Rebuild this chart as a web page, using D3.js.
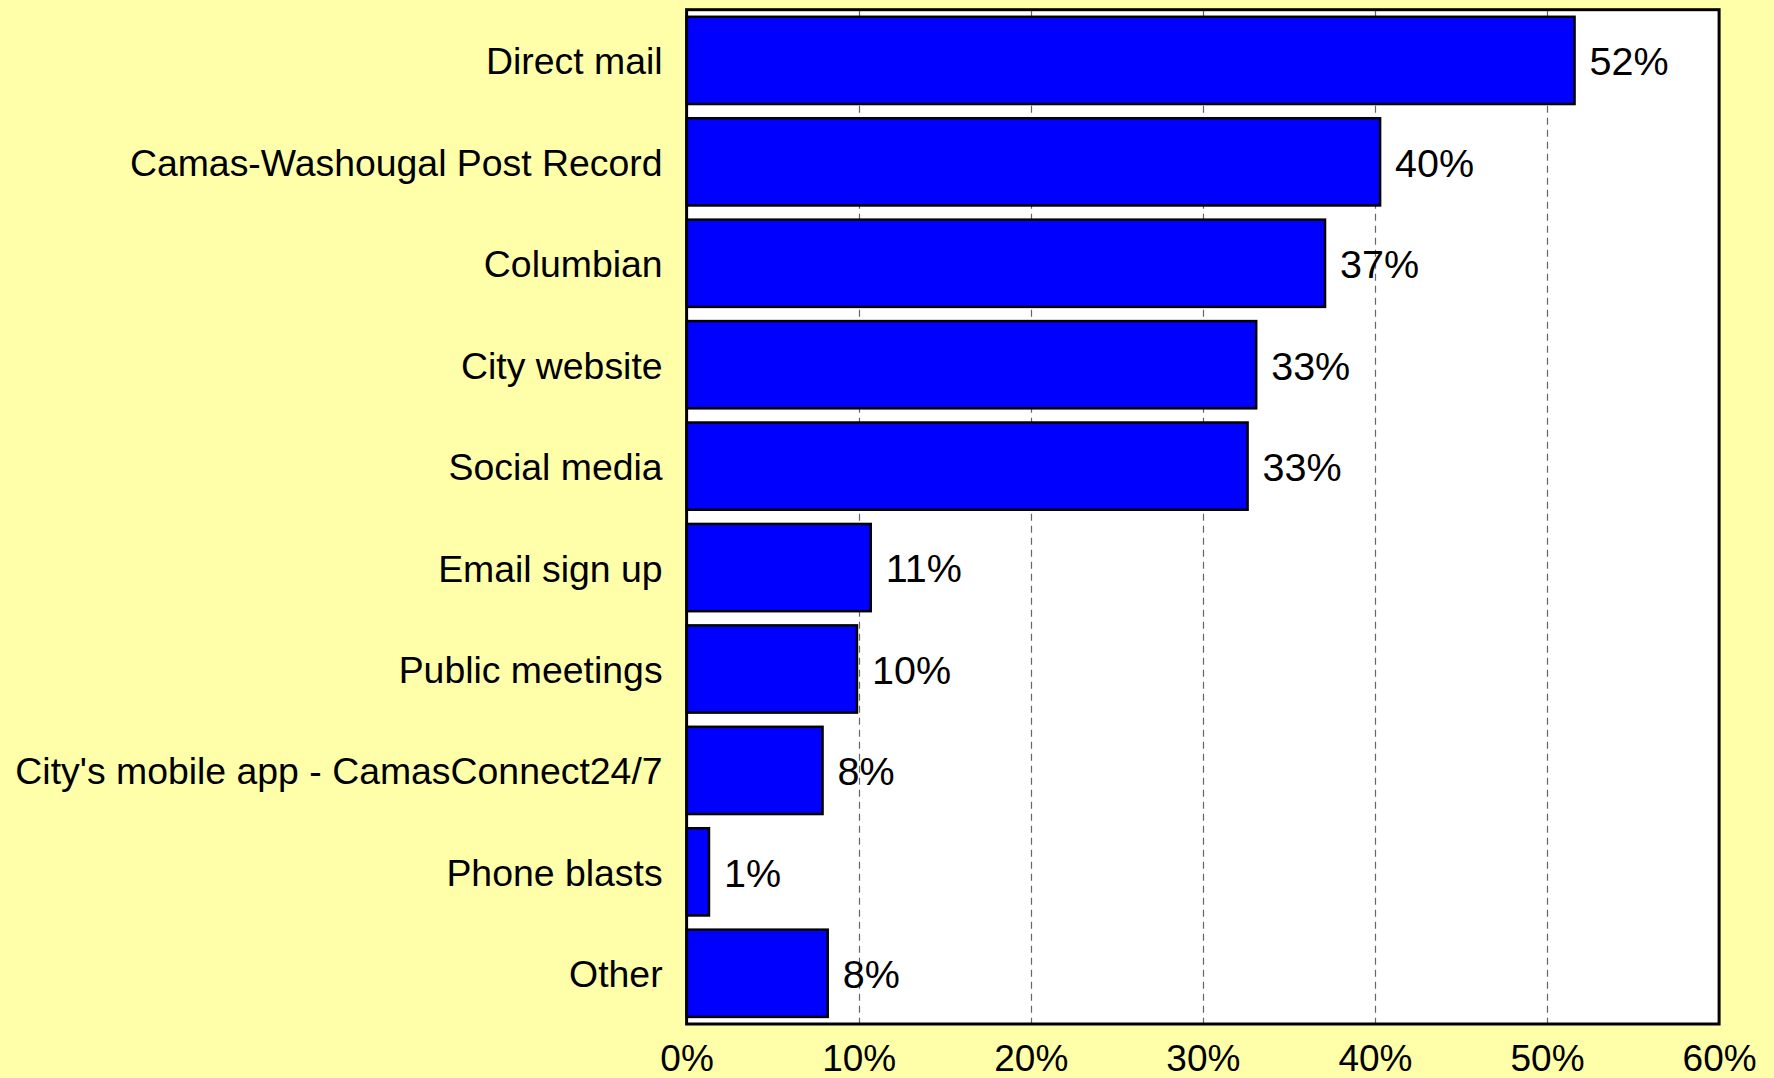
<!DOCTYPE html>
<html><head><meta charset="utf-8">
<script src="https://cdn.jsdelivr.net/npm/d3@7"></script>
<style>html,body{margin:0;padding:0;background:#ffffaa;}svg{display:block;}</style>
</head><body>
<svg id="chart" width="1774" height="1078"></svg>
<script>
const categories = ["Direct mail","Camas-Washougal Post Record","Columbian","City website","Social media","Email sign up","Public meetings","City's mobile app - CamasConnect24/7","Phone blasts","Other"];
const values = [51.6, 40.3, 37.1, 33.1, 32.6, 10.7, 9.9, 7.9, 1.3, 8.2];
const valueLabels = ["52%","40%","37%","33%","33%","11%","10%","8%","1%","8%"];
const tickValues = [0,10,20,30,40,50,60];
const tickLabels = ["0%","10%","20%","30%","40%","50%","60%"];

(function(){
const svg = d3.select("#chart");
const pL = 686.6, pR = 1719.1, pT = 9.7, pB = 1024;
const x = d3.scaleLinear().domain([0,60]).range([pL,pR]);
const y = d3.scaleBand().domain(categories).range([pT,pB]).paddingInner(0.14).paddingOuter(0.07);
const font = "'Liberation Sans', Arial, sans-serif";

svg.append("rect").attr("width",1774).attr("height",1078).attr("fill","#ffffaa");
svg.append("rect").attr("x",pL).attr("y",pT).attr("width",pR-pL).attr("height",pB-pT).attr("fill","#fff");

svg.append("g").selectAll("line").data(tickValues.slice(1,-1)).join("line")
  .attr("x1",d=>Math.round(x(d))+0.5).attr("x2",d=>Math.round(x(d))+0.5)
  .attr("y1",pT).attr("y2",pB)
  .attr("stroke","#666").attr("stroke-width",1.2).attr("stroke-dasharray","7,5");

svg.append("g").selectAll("rect").data(categories).join("rect")
  .attr("x",pL).attr("y",d=>y(d))
  .attr("width",(d,i)=>x(values[i])-pL).attr("height",y.bandwidth())
  .attr("fill","#0000ff").attr("stroke","#000").attr("stroke-width",2.5);

svg.append("g").selectAll("text").data(categories).join("text")
  .attr("x",(d,i)=>x(values[i])+15).attr("y",d=>y(d)+y.bandwidth()/2+1)
  .attr("dy","0.35em").attr("font-family",font).attr("font-size",39.5).attr("fill","#000")
  .text((d,i)=>valueLabels[i]);

svg.append("rect").attr("x",pL).attr("y",pT).attr("width",pR-pL).attr("height",pB-pT)
  .attr("fill","none").attr("stroke","#000").attr("stroke-width",3);

const yAxis = d3.axisLeft(y).tickSize(0).tickPadding(24);
const gy = svg.append("g").attr("transform",`translate(${pL},2)`).call(yAxis);
gy.select(".domain").remove();
gy.selectAll("text").attr("font-family",font).attr("font-size",37.4).attr("fill","#000");

const xAxis = d3.axisBottom(x).tickValues(tickValues).tickSize(0).tickPadding(21).tickFormat((d,i)=>tickLabels[i]);
const gx = svg.append("g").attr("transform",`translate(0,${pB})`).call(xAxis);
gx.select(".domain").remove();
gx.selectAll("text").attr("font-family",font).attr("font-size",37).attr("fill","#000");
})();
</script>
</body></html>
